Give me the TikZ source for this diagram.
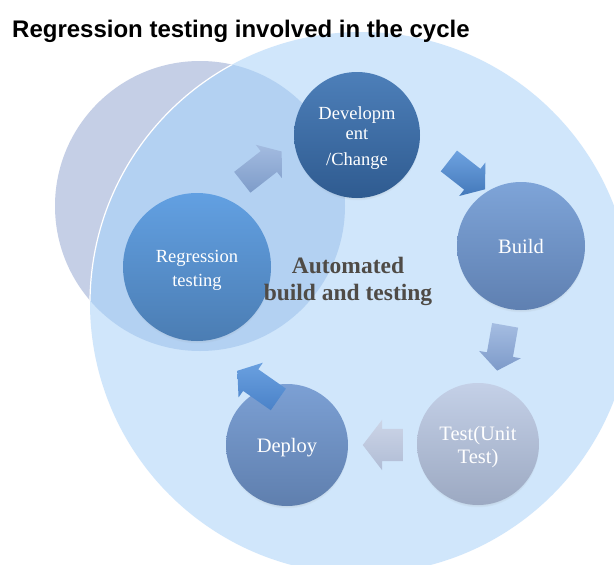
\documentclass[tikz,border=0pt]{standalone}
\usepackage{fontspec}
\setmainfont{Liberation Serif}
\newfontfamily\headfont{Liberation Sans}
\usetikzlibrary{shapes.arrows,shadows,fadings}

\definecolor{sky}{HTML}{D0E6FB}
\definecolor{mist}{HTML}{C5CFE6}
\definecolor{overlap}{HTML}{B3D1F2}
\definecolor{captext}{HTML}{4F4B46}
% stage fills (top / bottom)
\definecolor{devT}{HTML}{4D7FB9}\definecolor{devB}{HTML}{2F5B90}
\definecolor{bldT}{HTML}{7EA4D8}\definecolor{bldB}{HTML}{5F80B1}
\definecolor{tstT}{HTML}{C4D0E7}\definecolor{tstB}{HTML}{9CA9C2}
\definecolor{depT}{HTML}{7CA0D4}\definecolor{depB}{HTML}{5F7FAE}
\definecolor{regT}{HTML}{62A0E2}\definecolor{regB}{HTML}{4B7DB3}
% arrow fills (top / bottom)
\definecolor{aoT}{HTML}{A3BBE0}\definecolor{aoB}{HTML}{7E9CC9}
\definecolor{atT}{HTML}{6EA2E0}\definecolor{atB}{HTML}{4479BA}
\definecolor{ahT}{HTML}{A5BDE2}\definecolor{ahB}{HTML}{7D9AC9}
\definecolor{afT}{HTML}{CCD5E7}\definecolor{afB}{HTML}{B0BCD5}
\definecolor{avT}{HTML}{6AA0E0}\definecolor{avB}{HTML}{4A82C8}

% invisible strut that lowers a stage's text a little
\newcommand\lift[1]{\rule{0pt}{#1}}

\begin{document}
\begin{tikzpicture}[x=1pt,y=-1pt,
  stage/.style={circle, inner sep=0pt, minimum size=#1, text=white, align=center,
    circular drop shadow={shadow xshift=0pt, shadow yshift=-2.5pt, shadow scale=1.0, opacity=0.45}},
  flow/.style={single arrow, single arrow head extend=8pt, single arrow head indent=0pt,
    single arrow tip angle=105, minimum height=50pt, inner xsep=0pt, inner ysep=13pt, draw=none},
  caption/.style={font=\headfont\bfseries\fontsize{24}{28}\selectfont, anchor=base west, inner sep=0pt}
]
\useasboundingbox (0,0) rectangle (614,565);
\fill[white] (0,0) rectangle (614,565);
\clip (0,0) rectangle (614,565);

% grey disc behind, large pale-blue disc, and their overlap
\fill[mist] (200,206) circle[radius=145pt];
\fill[sky] (361,303) circle[radius=271pt];
\begin{scope}
  \clip (200,206) circle[radius=145pt];
  \fill[overlap] (361,303) circle[radius=271pt];
  \draw[white, line width=1.2pt] (361,303) circle[radius=271pt];
\end{scope}

% title
\node[caption] (title) at (12,37) {Regression testing involved in the cycle};

% cycle stages
\node[stage=126pt, top color=devT, bottom color=devB, font=\fontsize{18.5}{20}\selectfont] (dev) at (357,135)
  {\lift{19pt}Developm\\ent\\[6pt]/Change};
\node[stage=128pt, top color=bldT, bottom color=bldB, font=\fontsize{20.5}{23}\selectfont] (build) at (521,246)
  {\lift{16pt}Build};
\node[stage=122pt, top color=tstT, bottom color=tstB, font=\fontsize{20.5}{23}\selectfont] (test) at (478,444)
  {\lift{20pt}Test(Unit\\Test)};
\node[stage=122pt, top color=depT, bottom color=depB, font=\fontsize{20.5}{23}\selectfont] (deploy) at (287,445)
  {\lift{20pt}Deploy};
\node[stage=148pt, top color=regT, bottom color=regB, font=\fontsize{18.5}{24}\selectfont] (regr) at (197,267)
  {\lift{19pt}Regression\\testing};

% centre label, set over the stages
\node[font=\bfseries\fontsize{23.5}{27}\selectfont, text=captext, align=center] (auto) at (348,281)
  {Automated\\build and testing};

% block arrows between the stages
\node[flow, rotate=38, top color=aoT, bottom color=aoB] (a1) at (258,170) {};
\node[flow, rotate=-38, top color=atT, bottom color=atB, minimum height=46pt] (a2) at (463,172) {};
\node[flow, rotate=-100, top color=ahT, bottom color=ahB, minimum height=46pt] (a3) at (502,343) {};
\node[flow, rotate=180, top color=afT, bottom color=afB, minimum height=40pt, inner ysep=16pt,
  single arrow head extend=9pt] (a4) at (389,445) {};
\node[flow, rotate=145, top color=avT, bottom color=avB] (a5) at (262,388) {};
\end{tikzpicture}
\end{document}
